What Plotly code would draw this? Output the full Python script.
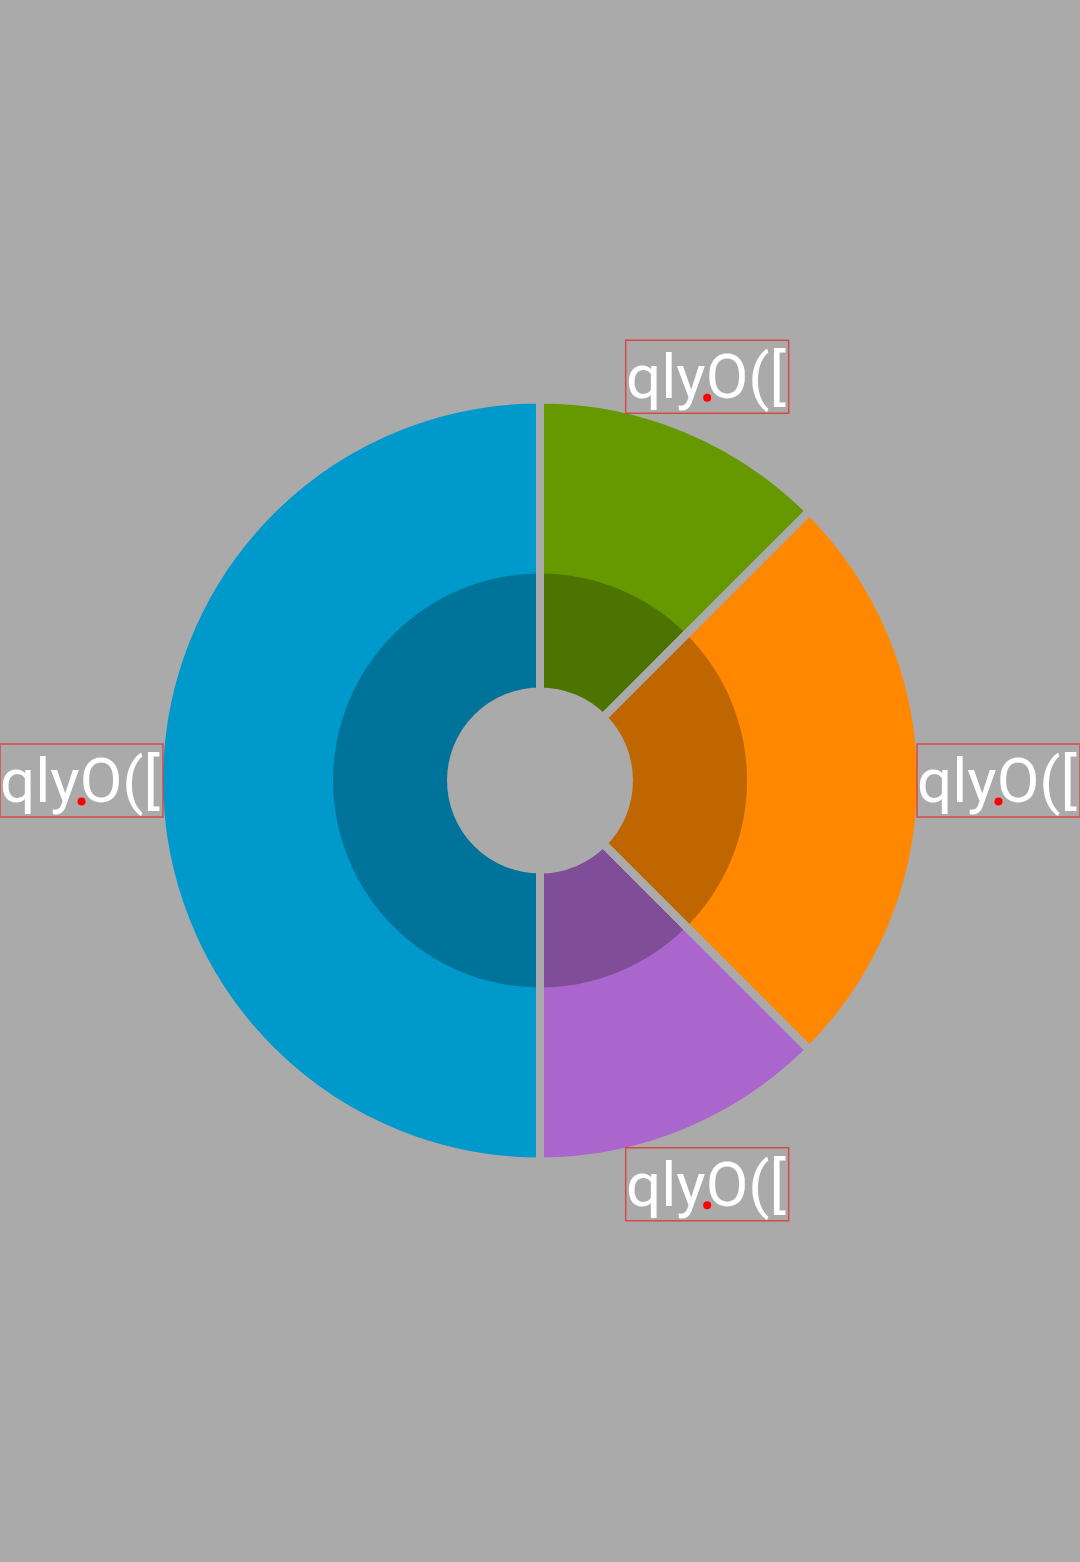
import math
import plotly.graph_objects as go

# ---- data ----
categories = ["A", "B", "C", "D"]
values = [1, 2, 1, 4]
label_texts = ["qlyO([", "qlyO([", "qlyO([", "qlyO(["]
outer_colors = ["#669900", "#ff8800", "#aa66cc", "#0099cc"]
inner_colors = ["#4d7300", "#bf6600", "#804d99", "#00739a"]

# ---- layout constants (pixels) ----
W, H = 1080, 1562
BG = "#aaaaaa"
CX, CY = 540, 780.5          # pie centre (from top)
R_OUT_VIS = 377              # visible outer radius
GAP = 8                      # separator width
R_OUT = R_OUT_VIS + GAP / 2  # geometric radius
R_MID = 207
R_HOLE = 93 - GAP / 2
FONT = "Roboto"
FONT_SIZE = 62
BOX_W, BOX_H = 163, 73
ASCENT = 57.5                # baseline offset from box top
BOX_LINE = "rgba(230,40,40,0.75)"


def domain(r):
    return dict(
        x=[(CX - r) / W, (CX + r) / W],
        y=[(H - CY - r) / H, (H - CY + r) / H],
    )


fig = go.Figure()

fig.add_trace(go.Pie(
    labels=categories, values=values, sort=False, direction="clockwise",
    rotation=0, hole=R_HOLE / R_OUT, domain=domain(R_OUT),
    marker=dict(colors=outer_colors, line=dict(width=0)),
    textinfo="none", hoverinfo="skip", showlegend=False,
))
fig.add_trace(go.Pie(
    labels=categories, values=values, sort=False, direction="clockwise",
    rotation=0, hole=R_HOLE / R_MID, domain=domain(R_MID),
    marker=dict(colors=inner_colors, line=dict(width=0)),
    textinfo="none", hoverinfo="skip", showlegend=False,
))
fig.add_trace(go.Pie(
    labels=categories, values=values, sort=False, direction="clockwise",
    rotation=0, hole=R_HOLE / R_OUT, domain=domain(R_OUT),
    marker=dict(colors=["rgba(0,0,0,0)"] * len(values),
                line=dict(color=BG, width=GAP)),
    textinfo="none", hoverinfo="skip", showlegend=False,
))


def px2paper(px, py):
    return px / W, 1 - py / H


# ---- outside labels: centre on mid-angle ray, box just touching the circle ----
total = sum(values)
cum = 0
a, b = BOX_W / 2, BOX_H / 2
for v, txt in zip(values, label_texts):
    mid = (cum + v / 2) / total * 2 * math.pi
    cum += v
    sx, sy = math.sin(mid), -math.cos(mid)

    def nearest(t):
        dx = max(abs(t * sx) - a, 0)
        dy = max(abs(t * sy) - b, 0)
        return math.hypot(dx, dy)

    lo, hi = 0.0, 2000.0
    for _ in range(60):
        m = (lo + hi) / 2
        if nearest(m) < R_OUT_VIS:
            lo = m
        else:
            hi = m
    px, py = CX + lo * sx, CY + lo * sy
    x, y = px2paper(px, py)
    fig.add_annotation(
        x=x, y=y, xref="paper", yref="paper",
        xanchor="center", yanchor="middle", showarrow=False,
        width=BOX_W, align="left", borderpad=0,
        text=txt, font=dict(family=FONT, size=FONT_SIZE, color="white"),
    )
    # label bounding box
    x0, y1 = px2paper(px - a, py - b)
    x1, y0 = px2paper(px + a, py + b)
    fig.add_shape(type="rect", xref="paper", yref="paper",
                  x0=x0, x1=x1, y0=y0, y1=y1,
                  line=dict(color=BOX_LINE, width=1.5), layer="above")
    # anchor dot at baseline centre
    bx, by = px, py - b + ASCENT
    dx0, dy1 = px2paper(bx - 4, by - 4)
    dx1, dy0 = px2paper(bx + 4, by + 4)
    fig.add_shape(type="circle", xref="paper", yref="paper",
                  x0=dx0, x1=dx1, y0=dy0, y1=dy1,
                  fillcolor="#ff0000", line=dict(width=0), layer="above")

fig.update_layout(
    width=W, height=H, margin=dict(l=0, r=0, t=0, b=0),
    paper_bgcolor=BG, plot_bgcolor=BG, showlegend=False,
)

fig.write_html("out.html", config={"displayModeBar": False},
               post_script="document.body.style.margin='0px';")
